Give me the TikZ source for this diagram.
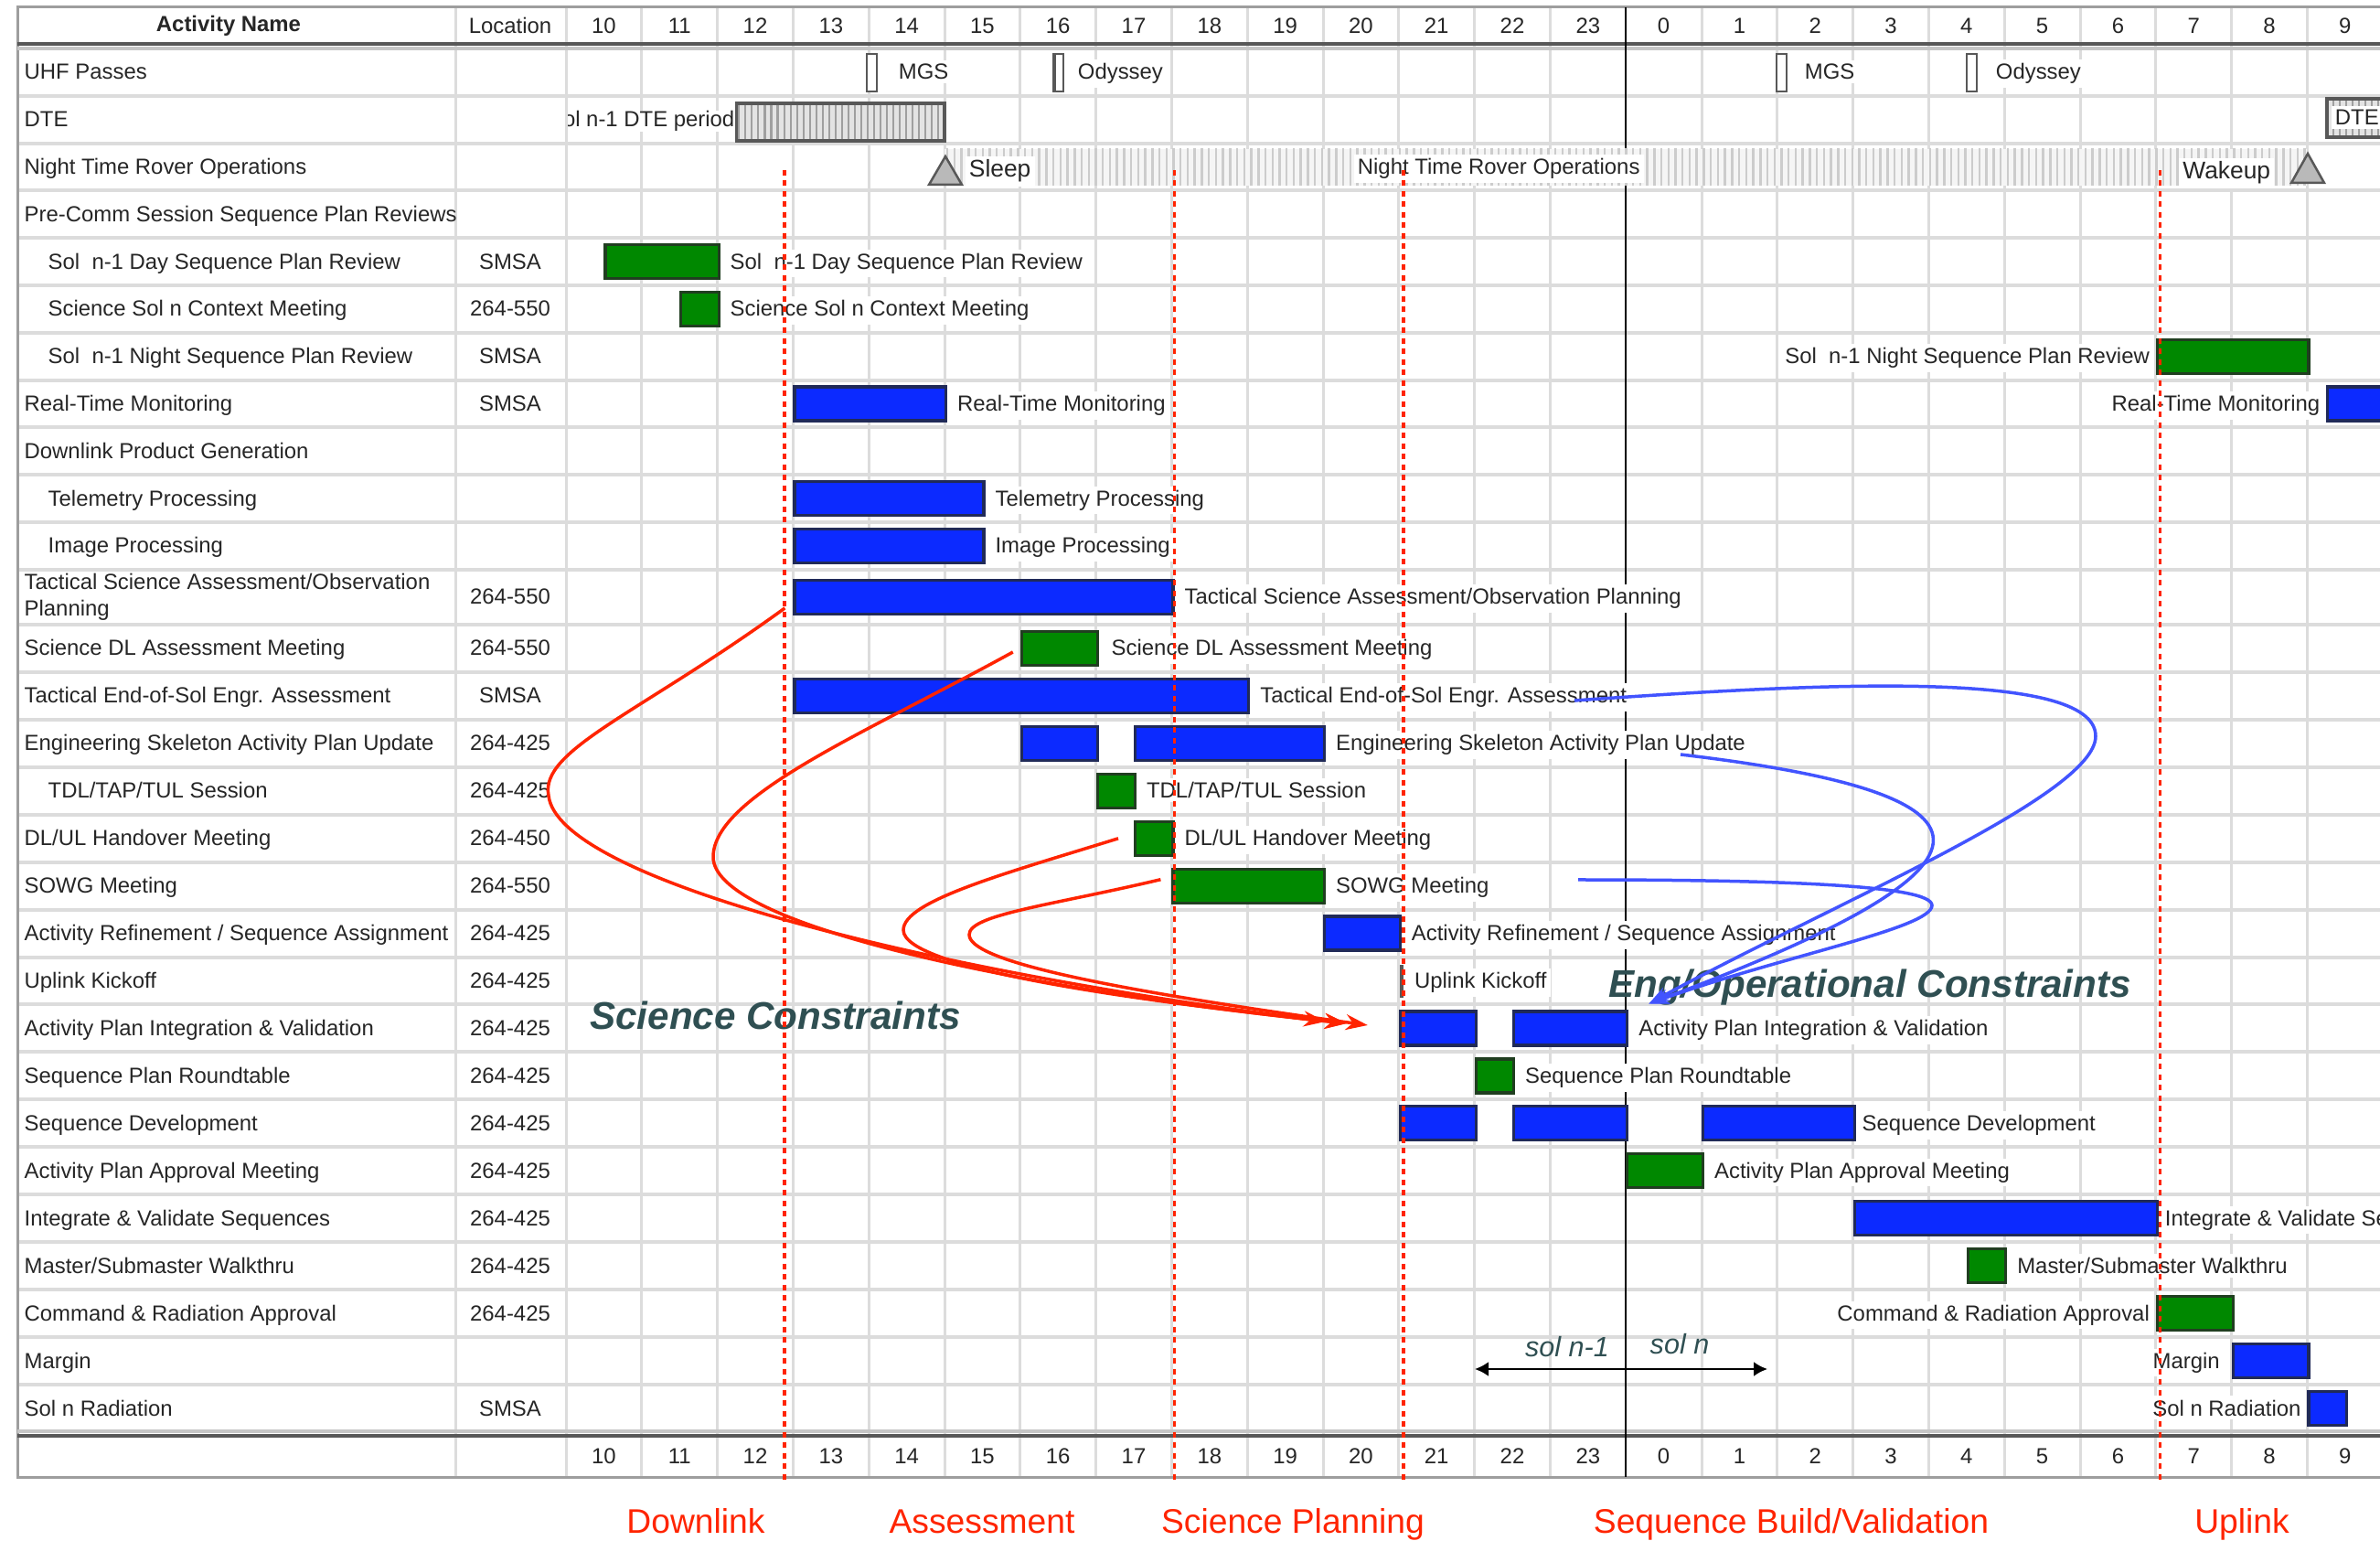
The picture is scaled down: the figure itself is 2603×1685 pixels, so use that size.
\documentclass[tikz,border=0pt]{standalone}
\usepackage{fontspec}
\setmainfont{Liberation Sans}
\usetikzlibrary{arrows.meta,patterns.meta,calc}

\definecolor{barblue}{RGB}{12,42,255}
\definecolor{barblueedge}{RGB}{32,42,88}
\definecolor{bargreen}{RGB}{0,136,0}
\definecolor{bargreenedge}{RGB}{32,62,32}
\definecolor{gridgray}{RGB}{220,220,220}
\definecolor{framegray}{RGB}{158,158,158}
\definecolor{darkrule}{RGB}{88,88,88}
\definecolor{phasered}{RGB}{255,36,0}
\definecolor{slate}{RGB}{47,79,82}
\definecolor{engblue}{RGB}{66,84,255}
\definecolor{labeltext}{RGB}{38,38,38}

% x position of an hour index (0 = 10:00, 14 = 0:00 next day)
\newcommand\hx[1]{619+82.8*(#1)}
% a Gantt bar: name, style, start index, end index, row centre
\newcommand\ganttbar[5]{%
  \node[#2, anchor=west, minimum width={82.8*((#4)-(#3))*0.1mm}] (#1) at ({\hx{#3}},#5) {};}
% activity name and location cells: row id, baseline y, indent x, name, location
\newcommand\actrow[5]{%
  \node[anchor=base west] (name#1) at (#3,#2) {#4};
  \node[anchor=base] (loc#1) at (558,#2) {#5};}

\begin{document}
\begin{tikzpicture}[x=0.1mm,y=-0.1mm,
  every node/.style={font=\fontsize{6.8}{8.2}\selectfont, text=labeltext, inner sep=0pt},
  lab/.style={anchor=base west, fill=white, inner sep=1.2pt},
  labL/.style={anchor=base east, fill=white, inner sep=1.2pt},
  bluebar/.style={fill=barblue, draw=barblueedge, line width=0.32mm, minimum height=3.7mm},
  greenbar/.style={fill=bargreen, draw=bargreenedge, line width=0.32mm, minimum height=3.7mm},
  milestone/.style={fill=darkrule, minimum height=3.6mm},
  gridline/.style={draw=gridgray, line width=0.3mm},
  rowrule/.style={draw=gridgray, line width=0.4mm},
  phaseline/.style={draw=phasered, line width=0.35mm, dash pattern=on 0.6mm off 0.55mm},
  phaselabel/.style={font=\fontsize{10.6}{12}\selectfont, text=phasered, anchor=base},
  sciarrow/.style={draw=phasered, line width=0.35mm, -{Stealth[length=2.4mm,width=1.7mm]}},
  engarrow/.style={draw=engblue, line width=0.35mm, -{Stealth[length=2.2mm,width=1.6mm]}},
  bigtag/.style={font=\fontsize{12}{14}\selectfont\bfseries\itshape, text=slate, anchor=base},
  soltag/.style={font=\fontsize{8.7}{10}\selectfont\itshape, text=slate, anchor=base},
  passmark/.style={draw=darkrule, fill=white, line width=0.25mm},
  milestonetri/.style={fill=gray!55, draw=darkrule, line width=0.25mm},
]
\clip (0,0) rectangle (2603,1685);
\useasboundingbox (0,0) rectangle (2603,1685);
\fill[white] (0,0) rectangle (2603,1685);

% ---------- grid ----------
\foreach \t in {104.8,156.6,208.4,260.2,312,363.8,415.6,467.4,519.2,571,622.8,683,734.9,786.9,838.8,890.8,942.7,994.6,1046.6,1098.5,1150.5,1202.4,1254.3,1306.3,1358.2,1410.2,1462.1,1514}
  \draw[rowrule] (19,\t) -- (2603,\t);
\foreach \xx in {498,619} \draw[gridline] (\xx,8) -- (\xx,1615);
\foreach \i in {1,...,13,15,16,...,23} \draw[gridline] ({\hx{\i}},8) -- ({\hx{\i}},1615);

% ---------- frame ----------
\draw[framegray, line width=0.3mm] (2603,8) -- (19,8) -- (19,1615) -- (2603,1615);
\draw[darkrule, line width=0.45mm] (19,48) -- (2603,48);
\draw[gray!45, line width=0.45mm] (19,53) -- (2603,53);
\draw[gray!45, line width=0.45mm] (19,1565) -- (2603,1565);
\draw[darkrule, line width=0.45mm] (19,1570) -- (2603,1570);
\draw[black, line width=0.25mm] ({\hx{14}},8) -- ({\hx{14}},1615);

% ---------- header and time axis ----------
\node[font=\fontsize{6.8}{8.2}\selectfont\bfseries] (hdrname) at (250,28) {Activity Name};
\node (hdrloc) at (558,28) {Location};
\foreach \lab [count=\i from 0] in {10,11,...,23,0,1,...,9} {
  \node (top\i) at ({\hx{\i+0.5}},28) {\lab};
  \node (bot\i) at ({\hx{\i+0.5}},1592) {\lab};
}

% ---------- activity names and locations ----------
\actrow{1}{87}{26}{UHF Passes}{}
\actrow{2}{138.7}{26}{DTE}{}
\actrow{3}{190.5}{26}{Night Time Rover Operations}{}
\actrow{4}{242.3}{26}{Pre-Comm Session Sequence Plan Reviews}{}
\actrow{5}{294.1}{52}{Sol\ \ n-1 Day Sequence Plan Review}{SMSA}
\actrow{6}{345.9}{52}{Science Sol n Context Meeting}{264-550}
\actrow{7}{397.7}{52}{Sol\ \ n-1 Night Sequence Plan Review}{SMSA}
\actrow{8}{449.5}{26}{Real-Time Monitoring}{SMSA}
\actrow{9}{501.3}{26}{Downlink Product Generation}{}
\actrow{10}{553.1}{52}{Telemetry Processing}{}
\actrow{11}{604.9}{52}{Image Processing}{}
\node[anchor=west, align=left] (name12) at (26,652.9) {Tactical Science Assessment/Observation\\Planning};
\node[anchor=base] (loc12) at (558,660.9) {264-550};
\actrow{13}{717}{26}{Science DL Assessment Meeting}{264-550}
\actrow{14}{768.9}{26}{Tactical End-of-Sol Engr. Assessment}{SMSA}
\actrow{15}{820.9}{26}{Engineering Skeleton Activity Plan Update}{264-425}
\actrow{16}{872.8}{52}{TDL/TAP/TUL Session}{264-425}
\actrow{17}{924.8}{26}{DL/UL Handover Meeting}{264-450}
\actrow{18}{976.7}{26}{SOWG Meeting}{264-550}
\actrow{19}{1028.6}{26}{Activity Refinement / Sequence Assignment}{264-425}
\actrow{20}{1080.6}{26}{Uplink Kickoff}{264-425}
\actrow{21}{1132.5}{26}{Activity Plan Integration \& Validation}{264-425}
\actrow{22}{1184.5}{26}{Sequence Plan Roundtable}{264-425}
\actrow{23}{1236.4}{26}{Sequence Development}{264-425}
\actrow{24}{1288.3}{26}{Activity Plan Approval Meeting}{264-425}
\actrow{25}{1340.3}{26}{Integrate \& Validate Sequences}{264-425}
\actrow{26}{1392.2}{26}{Master/Submaster Walkthru}{264-425}
\actrow{27}{1444.2}{26}{Command \& Radiation Approval}{264-425}
\actrow{28}{1496.1}{26}{Margin}{}
\actrow{29}{1548}{26}{Sol n Radiation}{SMSA}

% ---------- UHF passes ----------
\draw[passmark] (948,59) rectangle (959,100);
\draw[passmark] (1152,59) rectangle (1163,100);
\draw[darkrule, line width=0.35mm] (1153,59) -- (1153,100);
\draw[passmark] (1943,59) rectangle (1954,100);
\draw[passmark] (2151,59) rectangle (2162,100);
\node[lab] (mgsA) at (978,87) {MGS};
\node[lab] (odyA) at (1174,87) {Odyssey};
\node[lab] (mgsB) at (1969,87) {MGS};
\node[lab] (odyB) at (2178,87) {Odyssey};

% ---------- DTE ----------
\fill[gray!22] (805.3,113) rectangle (1033,154);
\fill[pattern={Lines[angle=90,distance=2pt,line width=0.6pt]}, pattern color=gray!75] (805.3,113) rectangle (1033,154);
\draw[darkrule, line width=0.35mm] (805.3,113) rectangle (1033,154);
\fill[gray!22] (2545,108) rectangle (2660,150);
\fill[pattern={Lines[angle=90,distance=2pt,line width=0.6pt]}, pattern color=gray!75] (2545,108) rectangle (2660,150);
\draw[darkrule, line width=0.35mm] (2545,108) rectangle (2660,150);
\node[lab] (dteB) at (2549,137) {DTE};
\begin{scope}
  \clip (621,105) rectangle (804,157);
  \node[anchor=base east, fill=white, inner sep=0pt] (dteA) at (804,138.7) {Sol n-1 DTE period};
\end{scope}

% ---------- night time rover operations ----------
\fill[gray!8] (1033,163) rectangle ({\hx{23}},203);
\fill[pattern={Lines[angle=90,distance=2.2pt,line width=0.7pt]}, pattern color=gray!40] (1033,163) rectangle ({\hx{23}},203);
\draw[milestonetri] (1034,171) -- (1052,202) -- (1016,202) -- cycle;
\draw[milestonetri] (2524,168) -- (2542,200) -- (2506,200) -- cycle;
\node[lab, font=\fontsize{7.5}{9}\selectfont] (sleep) at (1055,194) {Sleep};
\node[labL, font=\fontsize{7.5}{9}\selectfont] (wake) at (2488,196) {Wakeup};
\node[lab] (ntro) at (1480,190.5) {Night Time Rover Operations};

% ---------- bars ----------
\ganttbar{sdr}{greenbar}{0.5}{2}{286.1}
\ganttbar{ctx}{greenbar}{1.5}{2}{337.9}
\ganttbar{nspr}{greenbar}{21}{23}{389.7}
\ganttbar{rtm}{bluebar}{3}{5}{441.5}
\ganttbar{rtmb}{bluebar}{23.25}{24.6}{441.5}
\ganttbar{tlm}{bluebar}{3}{5.5}{545.1}
\ganttbar{img}{bluebar}{3}{5.5}{596.9}
\ganttbar{tsa}{bluebar}{3}{8}{652.9}
\ganttbar{sdl}{greenbar}{6}{7}{709}
\ganttbar{teos}{bluebar}{3}{9}{760.9}
\ganttbar{esaA}{bluebar}{6}{7}{812.9}
\ganttbar{esaB}{bluebar}{7.5}{10}{812.9}
\ganttbar{tdl}{greenbar}{7}{7.5}{864.8}
\ganttbar{dlul}{greenbar}{7.5}{8}{916.8}
\ganttbar{sowg}{greenbar}{8}{10}{968.7}
\ganttbar{ars}{bluebar}{10}{11}{1020.6}
\ganttbar{uk}{milestone}{11}{11.06}{1072.6}
\ganttbar{apivA}{bluebar}{11}{12}{1124.5}
\ganttbar{apivB}{bluebar}{12.5}{14}{1124.5}
\ganttbar{spr}{greenbar}{12}{12.5}{1176.5}
\ganttbar{sdA}{bluebar}{11}{12}{1228.4}
\ganttbar{sdB}{bluebar}{12.5}{14}{1228.4}
\ganttbar{sdC}{bluebar}{15}{17}{1228.4}
\ganttbar{apam}{greenbar}{14}{15}{1280.3}
\ganttbar{ivs}{bluebar}{17}{21}{1332.3}
\ganttbar{msw}{greenbar}{18.5}{19}{1384.2}
\ganttbar{cra}{greenbar}{21}{22}{1436.2}
\ganttbar{mrg}{bluebar}{22}{23}{1488.1}
\ganttbar{rad}{bluebar}{23}{23.5}{1540}

% ---------- bar labels ----------
\node[lab] (tSDR) at ([xshift=0.6mm,yshift=-0.8mm]sdr.east) {Sol\ \ n-1 Day Sequence Plan Review};
\node[lab] (tCTX) at ([xshift=0.6mm,yshift=-0.8mm]ctx.east) {Science Sol n Context Meeting};
\node[labL] (tNSPR) at ([xshift=-0.2mm,yshift=-0.8mm]nspr.west) {Sol\ \ n-1 Night Sequence Plan Review};
\node[lab] (tRTM) at ([xshift=0.6mm,yshift=-0.8mm]rtm.east) {Real-Time Monitoring};
\node[labL] (tRTMB) at ([xshift=-0.2mm,yshift=-0.8mm]rtmb.west) {Real-Time Monitoring};
\node[lab] (tTLM) at ([xshift=0.6mm,yshift=-0.8mm]tlm.east) {Telemetry Processing};
\node[lab] (tIMG) at ([xshift=0.6mm,yshift=-0.8mm]img.east) {Image Processing};
\node[lab] (tTSA) at ([xshift=0.6mm,yshift=-0.8mm]tsa.east) {Tactical Science Assessment/Observation Planning};
\node[lab] (tSDL) at ([xshift=0.9mm,yshift=-0.8mm]sdl.east) {Science DL Assessment Meeting};
\node[lab] (tTEOS) at ([xshift=0.6mm,yshift=-0.8mm]teos.east) {Tactical End-of-Sol Engr. Assessment};
\node[lab] (tESA) at ([xshift=0.6mm,yshift=-0.8mm]esaB.east) {Engineering Skeleton Activity Plan Update};
\node[lab] (tTDL) at ([xshift=0.6mm,yshift=-0.8mm]tdl.east) {TDL/TAP/TUL Session};
\node[lab] (tDLUL) at ([xshift=0.6mm,yshift=-0.8mm]dlul.east) {DL/UL Handover Meeting};
\node[lab] (tSOWG) at ([xshift=0.6mm,yshift=-0.8mm]sowg.east) {SOWG Meeting};
\node[lab] (tARS) at ([xshift=0.6mm,yshift=-0.8mm]ars.east) {Activity Refinement / Sequence Assignment};
\node[lab] (tUK) at ([xshift=0.6mm,yshift=-0.8mm]uk.east) {Uplink Kickoff};
\node[lab] (tAPIV) at ([xshift=0.6mm,yshift=-0.8mm]apivB.east) {Activity Plan Integration \& Validation};
\node[lab] (tSPR) at ([xshift=0.6mm,yshift=-0.8mm]spr.east) {Sequence Plan Roundtable};
\node[lab] (tSD) at ([xshift=0.2mm,yshift=-0.8mm]sdC.east) {Sequence Development};
\node[lab] (tAPAM) at ([xshift=0.6mm,yshift=-0.8mm]apam.east) {Activity Plan Approval Meeting};
\node[lab] (tIVS) at ([xshift=0.2mm,yshift=-0.8mm]ivs.east) {Integrate \& Validate Sequences};
\node[lab] (tMSW) at ([xshift=0.6mm,yshift=-0.8mm]msw.east) {Master/Submaster Walkthru};
\node[labL] (tCRA) at ([xshift=-0.2mm,yshift=-0.8mm]cra.west) {Command \& Radiation Approval};
\node[labL] (tMRG) at ([xshift=-0.8mm,yshift=-0.8mm]mrg.west) {Margin};
\node[labL] (tRAD) at ([xshift=-0.2mm,yshift=-0.8mm]rad.west) {Sol n Radiation};

% ---------- annotations ----------
\node[bigtag] (scicon) at (848,1126) {Science Constraints};
\node[bigtag] (engcon) at (2045,1091) {Eng/Operational Constraints};
\node[soltag] (solprev) at (1714,1483) {sol n-1};
\node[soltag] (solcur) at (1837,1480) {sol n};
\coordinate (solL) at (1613,1497);
\coordinate (solR) at (1933,1497);
\draw[black, line width=0.25mm, {Latex[length=1.5mm,width=1.6mm]}-{Latex[length=1.5mm,width=1.6mm]}] (solL) -- (solR);

% ---------- phase boundaries ----------
\foreach \xx in {858,1284.6,1534.8,2362.3} \draw[phaseline] (\xx,186) -- (\xx,1623);
\node[phaselabel] (phDL) at (761,1676) {Downlink};
\node[phaselabel] (phAS) at (1074,1676) {Assessment};
\node[phaselabel] (phSP) at (1414,1676) {Science Planning};
\node[phaselabel] (phSB) at (1959,1676) {Sequence Build/Validation};
\node[phaselabel] (phUL) at (2452,1676) {Uplink};

% ---------- science constraints ----------
\coordinate (tsaOut) at ($(tsa.west)+(-9,12)$);
\coordinate (sdlOut) at ($(sdl.west)+(-8,4)$);
\coordinate (dlulOut) at ($(dlul.west)+(-17,0)$);
\coordinate (sowgOut) at ($(sowg.west)+(-12,-7)$);
\coordinate (sciTipA) at ($(apivA.west)+(-80,-7.5)$);
\coordinate (sciTipB) at ($(apivA.west)+(-57,-5.5)$);
\coordinate (sciTipC) at ($(apivA.west)+(-34,-3.5)$);
\draw[sciarrow] (tsaOut) .. controls (700,780) and (590,820) .. (600,870)
  .. controls (610,960) and (1000,1060) .. (sciTipA);
\draw[sciarrow] (sdlOut) .. controls (950,800) and (780,870) .. (780,937)
  .. controls (780,1010) and (1100,1080) .. (sciTipB);
\draw[sciarrow] (dlulOut) .. controls (1100,955) and (988,985) .. (988,1017)
  .. controls (988,1060) and (1250,1095) .. (sciTipB);
\draw[sciarrow] (sowgOut) .. controls (1150,990) and (1060,1000) .. (1060,1022)
  .. controls (1060,1050) and (1200,1080) .. (sciTipC);

% ---------- engineering / operational constraints ----------
\coordinate (teosOut) at (1722,766);
\coordinate (esaOut) at (1838,825);
\coordinate (sowgEng) at (1726,962);
\coordinate (engTip) at ($(apivB.east)+(22,-27)$);
\draw[engarrow] (teosOut) .. controls (1980,748) and (2292,730) .. (2292,805)
  .. controls (2292,870) and (2000,990) .. (engTip);
\draw[engarrow] (esaOut) .. controls (2220,870) and (2200,950) .. (engTip);
\draw[engarrow] (sowgEng) .. controls (1950,962) and (2113,968) .. (2113,990)
  .. controls (2113,1015) and (1950,1045) .. (engTip);
\end{tikzpicture}
\end{document}
